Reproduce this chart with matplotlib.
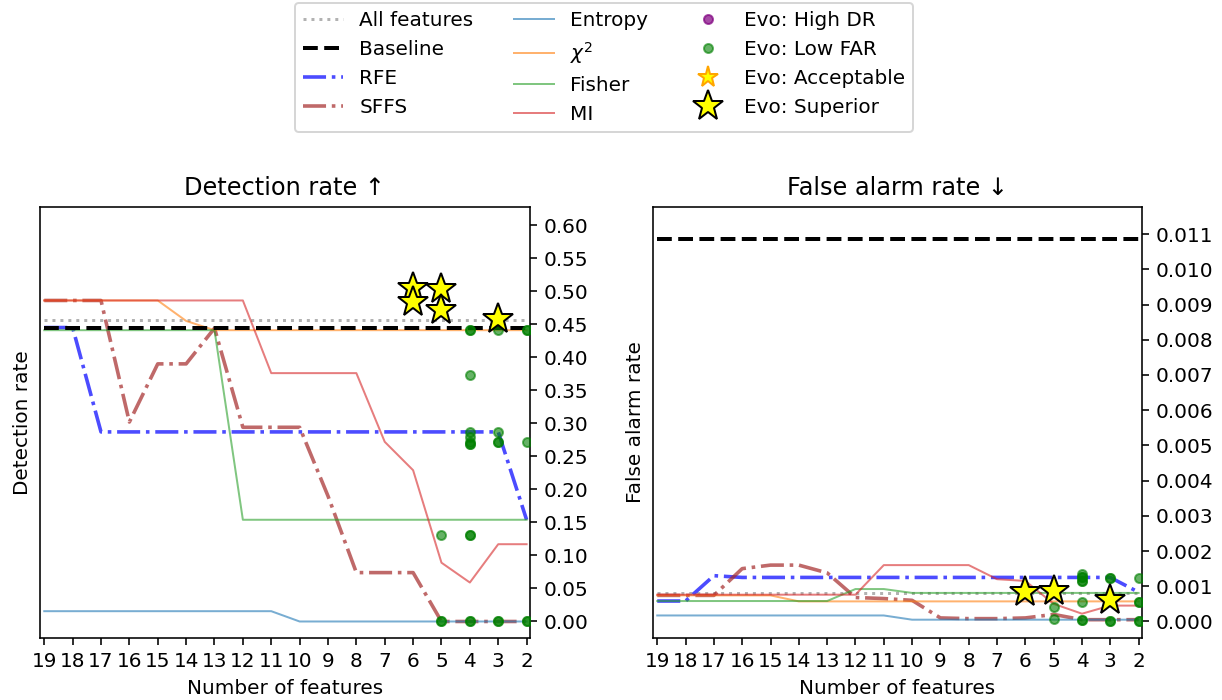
import numpy as np
import matplotlib
matplotlib.use('Agg')
import matplotlib.pyplot as plt
from matplotlib.ticker import FormatStrFormatter

# number of features, x axis runs 19 -> 2
n_feat = [19, 18, 17, 16, 15, 14, 13, 12, 11, 10, 9, 8, 7, 6, 5, 4, 3, 2]

# detection rate
dr_all = 0.456
dr_baseline = 0.445
dr_rfe = [0.445, 0.445, 0.287, 0.287, 0.287, 0.287, 0.287, 0.287, 0.287,
          0.287, 0.287, 0.287, 0.287, 0.287, 0.287, 0.287, 0.287, 0.154]
dr_sffs = [0.486, 0.486, 0.486, 0.302, 0.390, 0.390, 0.444, 0.294, 0.294,
           0.294, 0.190, 0.074, 0.074, 0.074, 0.0, 0.0, 0.0, 0.0]
dr_entropy = [0.0156, 0.0156, 0.0156, 0.0156, 0.0156, 0.0156, 0.0156, 0.0156, 0.0156,
              0.0, 0.0, 0.0, 0.0, 0.0, 0.0, 0.0, 0.0, 0.0]
dr_chi2 = [0.486, 0.486, 0.486, 0.486, 0.486, 0.455, 0.441, 0.441, 0.441,
           0.441, 0.441, 0.441, 0.441, 0.441, 0.441, 0.441, 0.441, 0.441]
dr_fisher = [0.441, 0.441, 0.441, 0.441, 0.441, 0.441, 0.441, 0.154, 0.154,
             0.154, 0.154, 0.154, 0.154, 0.154, 0.154, 0.154, 0.154, 0.154]
dr_mi = [0.486, 0.486, 0.486, 0.486, 0.486, 0.486, 0.486, 0.486, 0.376,
         0.376, 0.376, 0.376, 0.272, 0.229, 0.089, 0.059, 0.117, 0.117]

# false alarm rate
far_all = 0.0008
far_baseline = 0.01086
far_rfe = [0.00058, 0.00058, 0.0013, 0.00125, 0.00125, 0.00125, 0.00125, 0.00125, 0.00125,
           0.00125, 0.00125, 0.00125, 0.00125, 0.00125, 0.00125, 0.00125, 0.00125, 0.00083]
far_sffs = [0.00074, 0.00074, 0.00074, 0.0015, 0.0016, 0.0016, 0.00138, 0.00068, 0.00065,
            0.0006, 0.0001, 0.00008, 0.00008, 0.0001, 0.0002, 0.00005, 0.00005, 0.00005]
far_entropy = [0.00017, 0.00017, 0.00017, 0.00017, 0.00017, 0.00017, 0.00017, 0.00017, 0.00017,
               0.00005, 0.00005, 0.00005, 0.00005, 0.00005, 0.00005, 0.00005, 0.00005, 0.00005]
far_chi2 = [0.00074, 0.00074, 0.00074, 0.00074, 0.00074, 0.00057, 0.00057, 0.00057, 0.00057,
            0.00057, 0.00057, 0.00057, 0.00057, 0.00057, 0.00057, 0.00057, 0.00057, 0.00057]
far_fisher = [0.00058, 0.00058, 0.00058, 0.00058, 0.00058, 0.00058, 0.00058, 0.00092, 0.00092,
              0.00081, 0.00081, 0.00081, 0.00081, 0.00081, 0.00081, 0.00081, 0.00081, 0.00081]
far_mi = [0.00076, 0.00076, 0.00076, 0.00076, 0.00076, 0.00076, 0.00076, 0.00076, 0.0016,
          0.0016, 0.0016, 0.0016, 0.0012, 0.00115, 0.0005, 0.00022, 0.00045, 0.00045]

# evolutionary solutions (low FAR points, repeated where markers pile up)
evo_dr_n = [5, 5, 5, 4, 4, 4, 4, 4, 4, 4, 4, 4, 4, 4, 4,
            3, 3, 3, 3, 3, 3, 2, 2, 2, 2, 2]
evo_dr = [0.131, 0.0, 0.0, 0.441, 0.441, 0.373, 0.287, 0.279, 0.272, 0.269, 0.269, 0.131, 0.131, 0.0, 0.0,
          0.441, 0.287, 0.272, 0.272, 0.0, 0.0, 0.441, 0.441, 0.272, 0.0, 0.0]
evo_far_n = [5, 5, 4, 4, 4, 4, 4, 4, 4, 4,
             3, 3, 3, 3, 2, 2, 2, 2, 2]
evo_far = [0.0004, 0.00007, 0.00134, 0.00126, 0.00126, 0.00116, 0.00116, 0.00056, 0.00005, 0.00005,
           0.00123, 0.00123, 0.00002, 0.00002, 0.00123, 0.00056, 0.00056, 0.0, 0.0]
evo_high_dr_n = []
evo_high_dr = []
acc_n = []
acc_dr = []
sup_dr_n = [6, 6, 5, 5, 3]
sup_dr = [0.505, 0.484, 0.503, 0.471, 0.458]
sup_far_n = [6, 5, 3]
sup_far = [0.00083, 0.00086, 0.0006]

fig = plt.figure(figsize=(1222 / 144, 700 / 144), dpi=144)
ax1 = fig.add_axes([40 / 1222, 1 - 638 / 700, 490 / 1222, 431 / 700])
ax2 = fig.add_axes([653 / 1222, 1 - 638 / 700, 489 / 1222, 431 / 700])


def draw(ax, all_v, base_v, rfe, sffs, ent, chi, fis, mi, pn, pv, hn, hv, an, av, sn, sv):
    ax.plot(n_feat, [all_v] * len(n_feat), ':', color='gray', alpha=0.6, lw=1.5, label='All features')
    ax.plot(n_feat, [base_v] * len(n_feat), '--', color='black', lw=2, label='Baseline', zorder=3)
    ax.plot(n_feat, rfe, '-.', color='blue', alpha=0.7, lw=1.8, label='RFE')
    ax.plot(n_feat, sffs, '-.', color='brown', alpha=0.7, lw=1.8, label='SFFS')
    ax.plot(n_feat, ent, '-', color='tab:blue', alpha=0.6, lw=1, label='Entropy')
    ax.plot(n_feat, chi, '-', color='tab:orange', alpha=0.6, lw=1, label=r'$\chi^2$')
    ax.plot(n_feat, fis, '-', color='tab:green', alpha=0.6, lw=1, label='Fisher')
    ax.plot(n_feat, mi, '-', color='tab:red', alpha=0.6, lw=1, label='MI')
    ax.plot(hn, hv, 'o', color='purple', alpha=0.7, ms=4.5, label='Evo: High DR')
    ax.plot(pn, pv, 'o', color='green', alpha=0.6, ms=4.5, lw=0, label='Evo: Low FAR', zorder=4)
    ax.plot(an, av, '*', color='yellow', mec='orange', ms=11, label='Evo: Acceptable')
    ax.plot(sn, sv, '*', color='yellow', mec='black', ms=16, lw=0, label='Evo: Superior', zorder=5)
    ax.set_xlim(19.15, 1.88)
    ax.set_xticks(n_feat)
    ax.yaxis.tick_right()
    ax.set_xlabel('Number of features')


draw(ax1, dr_all, dr_baseline, dr_rfe, dr_sffs, dr_entropy, dr_chi2, dr_fisher, dr_mi,
     evo_dr_n, evo_dr, evo_high_dr_n, evo_high_dr, acc_n, acc_dr, sup_dr_n, sup_dr)
draw(ax2, far_all, far_baseline, far_rfe, far_sffs, far_entropy, far_chi2, far_fisher, far_mi,
     evo_far_n, evo_far, evo_high_dr_n, evo_high_dr, acc_n, acc_dr, sup_far_n, sup_far)

ax1.set_ylim(-0.025, 0.6275)
ax1.set_yticks(np.arange(0, 0.61, 0.05))
ax1.yaxis.set_major_formatter(FormatStrFormatter('%.2f'))
ax1.set_ylabel('Detection rate')
ax1.set_title('Detection rate \u2191')

ax2.set_ylim(-0.00047, 0.01177)
ax2.set_yticks(np.arange(0, 0.0111, 0.001))
ax2.yaxis.set_major_formatter(FormatStrFormatter('%.3f'))
ax2.set_ylabel('False alarm rate')
ax2.set_title('False alarm rate \u2193')

handles, labels = ax1.get_legend_handles_labels()
fig.legend(handles, labels, loc='upper center', ncol=3, bbox_to_anchor=(604 / 1222, 1 - 3 / 700),
           borderaxespad=0)

fig.savefig('out.png', dpi=144)
